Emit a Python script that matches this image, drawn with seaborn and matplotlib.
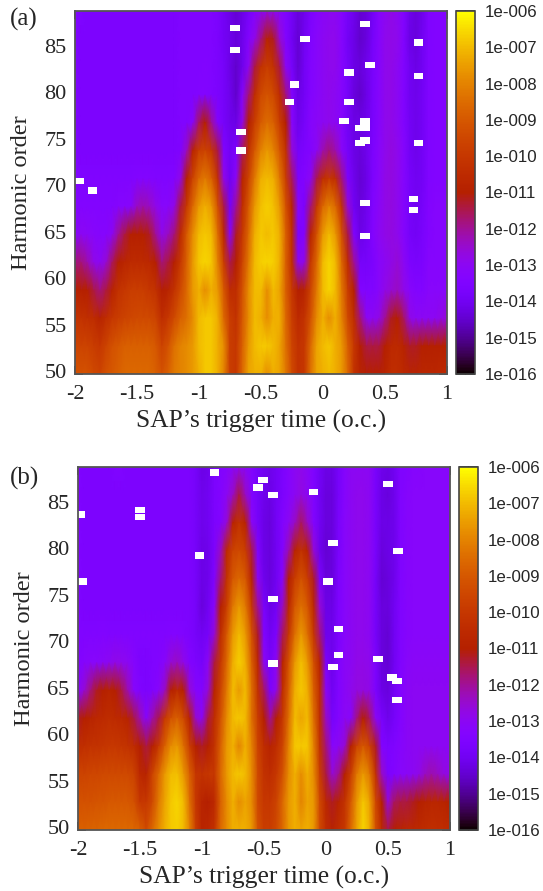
import matplotlib
matplotlib.use('Agg')
from matplotlib import pyplot as plt
import numpy as np
import seaborn as sns
sns.set_style('ticks')
plt.rcParams['font.family'] = ['Liberation Serif', 'DejaVu Serif']

# trigger time columns -2 .. 1 in 0.05 steps, harmonic order rows 89 .. 50 in steps of 3
times = [round(-2 + 0.05 * i, 2) for i in range(61)]
orders = [89, 86, 83, 80, 77, 74, 71, 68, 65, 62, 59, 56, 53, 50]
x_ticks = [-2, -1.5, -1, -0.5, 0, 0.5, 1]
x_labels = ['-2', '-1.5', '-1', '-0.5', '0', '0.5', '1']
y_ticks = [50, 55, 60, 65, 70, 75, 80, 85]
bar_labels = ['1e-016', '1e-015', '1e-014', '1e-013', '1e-012', '1e-011',
              '1e-010', '1e-009', '1e-008', '1e-007', '1e-006']

# tenths of a decade above 1e-16
panel_a = [
    [26,25,24,24,24,24,24,24,24,24, 24,24,24,24,24,24,24,25,25,25, 25,25,25,24,21,18,16,18,22,26, 29,32,31,28,25,21,17,19,24,27, 29,30,30,27,22,19,16,17,21,27, 30,32,30,26,19,17,19,25,26,26,26],
    [25,24,24,24,24,24,24,24,24,24, 24,24,24,24,24,24,24,25,25,25, 25,25,25,24,21,19,17,19,26,32, 42,52,48,35,26,20,16,20,25,28, 30,31,31,27,21,18,15,17,22,27, 31,32,31,26,18,17,20,25,26,26,26],
    [25,24,24,24,24,24,24,24,24,24, 24,24,24,24,24,24,24,25,25,25, 25,26,25,24,22,18,15,19,30,46, 58,62,58,46,30,22,16,21,26,28, 30,31,31,27,22,18,17,19,23,27, 31,32,30,26,20,18,20,25,26,26,26],
    [25,24,24,24,24,24,24,24,24,24, 24,24,24,24,24,24,24,25,25,25, 26,26,25,24,22,19,15,27,42,56, 66,69,66,56,42,26,18,21,26,28, 30,31,30,27,22,17,15,18,23,27, 31,32,30,26,20,19,21,25,26,26,26],
    [25,24,24,24,24,24,24,24,24,24, 24,24,24,24,24,24,24,25,25,28, 44,50,40,26,22,19,18,32,50,62, 71,75,72,62,50,28,19,22,27,29, 30,31,30,27,21,18,18,19,23,27, 31,32,30,26,21,19,21,25,26,26,26],
    [25,24,24,24,24,24,24,24,24,24, 24,24,24,24,24,24,24,25,36,52, 62,64,60,46,25,21,24,44,58,70, 80,84,80,70,58,34,22,24,26,30, 38,42,38,29,22,18,17,19,24,28, 31,33,31,27,21,19,21,25,26,26,26],
    [26,25,25,25,25,25,25,25,25,25, 26,26,26,25,25,25,26,32,50,64, 74,78,72,58,32,20,30,52,64,78, 88,90,88,78,62,44,24,26,30,45, 56,60,56,42,24,19,16,18,24,28, 32,33,31,27,22,20,21,25,26,26,26],
    [26,26,26,26,26,26,26,27,27,28, 36,38,36,32,28,28,32,46,60,74, 84,88,84,68,46,22,40,56,70,84, 91,93,91,84,68,52,28,24,42,60, 74,80,74,58,34,20,17,19,25,29, 32,33,31,27,22,20,22,26,27,27,27],
    [28,30,29,28,27,27,30,40,46,50, 50,50,48,40,32,36,42,55,70,82, 90,92,90,76,54,28,48,60,74,88, 92,90,92,88,72,56,24,26,52,68, 84,90,84,68,46,25,18,20,26,30, 32,33,31,27,22,21,23,26,27,27,27],
    [42,42,38,32,30,34,44,50,53,55, 55,55,54,50,42,46,50,60,72,84, 92,94,92,80,62,45,50,64,78,90, 93,94,93,88,72,56,30,32,60,74, 90,94,90,74,56,40,22,22,24,28, 30,32,34,30,24,23,24,27,27,27,27],
    [50,50,50,46,42,46,52,58,60,62, 62,62,60,58,50,52,58,66,74,84, 88,82,88,84,70,56,56,68,82,90, 90,82,90,86,72,60,50,52,64,78, 90,94,90,78,62,50,26,25,25,28, 32,34,36,32,28,26,26,28,28,28,28],
    [58,58,57,56,52,56,60,62,64,65, 66,66,66,64,56,60,66,72,76,82, 90,92,92,88,74,62,58,70,82,90, 88,82,88,88,74,62,55,58,68,82, 88,82,88,80,66,56,42,30,30,32, 40,48,50,44,32,30,30,30,30,32,34],
    [64,64,64,62,60,64,68,70,72,72, 72,72,72,70,64,68,76,80,82,84, 90,92,92,88,82,62,60,72,84,90, 92,92,90,86,76,64,58,60,74,86, 90,92,88,84,72,60,50,46,46,46, 50,54,55,52,48,48,50,50,50,50,50],
    [68,68,68,66,64,68,70,72,74,74, 74,74,74,72,68,72,78,80,82,84, 88,92,92,88,80,62,60,74,86,88, 88,82,88,86,78,66,58,60,76,86, 88,90,88,84,74,58,52,50,50,50, 52,56,56,54,52,52,53,53,53,54,54],
]
panel_b = [
    [25,24,24,24,24,24,25,25,24,24, 24,24,24,24,24,24,24,24,24,22, 18,19,24,26,27,29,30,29,26,22, 20,19,21,24,27,30,31,29,25,21, 18,18,22,27,30,30,30,30,23,19, 18,20,25,26,27,27,28,28,28,28,28],
    [25,24,24,24,24,24,24,24,24,24, 24,24,24,24,24,24,24,24,24,22, 19,20,24,26,30,36,46,36,26,22, 19,18,21,24,27,30,33,30,25,20, 17,17,22,27,30,31,31,30,23,18, 17,19,25,27,28,28,28,28,28,28,28],
    [25,24,24,24,24,24,24,24,24,24, 24,24,24,24,24,24,24,24,24,22, 19,20,24,26,34,52,58,52,30,22, 18,17,21,26,30,36,44,36,26,20, 17,17,23,28,30,31,31,30,23,18, 18,19,25,27,28,28,28,28,28,28,28],
    [25,24,24,24,24,24,24,24,24,24, 24,24,24,24,24,24,24,24,24,22, 18,19,24,36,55,64,66,62,46,25, 18,17,20,26,38,52,58,52,34,19, 16,17,23,28,30,31,31,30,23,17, 18,19,25,27,28,28,28,28,28,28,28],
    [25,24,24,24,24,24,24,24,24,24, 24,24,24,24,24,24,24,24,24,22, 18,19,25,42,58,70,74,70,52,30, 19,17,20,28,50,62,68,62,48,24, 17,17,24,28,30,31,31,30,22,16, 17,19,25,27,28,28,28,28,28,28,28],
    [25,24,24,24,24,24,24,24,24,24, 24,24,24,24,24,24,24,24,24,22, 17,20,28,50,62,78,84,78,60,40, 23,18,21,36,54,70,76,70,54,34, 18,18,24,28,30,31,31,30,22,17, 17,20,25,27,28,28,28,28,28,28,28],
    [25,25,25,25,26,25,25,25,25,25, 25,25,25,25,25,26,26,25,24,22, 20,22,34,56,70,84,90,84,68,48, 25,20,24,44,60,76,84,76,60,42, 19,19,24,28,30,31,31,30,22,17, 16,20,25,27,28,28,28,28,28,28,28],
    [26,27,28,28,29,30,32,31,30,27, 24,24,25,26,28,34,36,32,26,24, 22,30,46,60,74,88,93,88,72,54, 30,22,30,52,68,84,91,84,68,52, 24,19,25,29,30,32,32,31,24,17, 16,20,25,28,29,29,29,29,29,29,29],
    [28,34,42,48,50,52,50,46,38,28, 25,24,25,28,36,50,55,50,34,27, 26,34,52,64,78,90,84,90,76,58, 44,24,32,56,72,88,92,88,72,56, 30,20,25,29,31,33,33,32,24,18, 17,21,26,29,30,30,30,30,30,30,30],
    [48,50,52,54,55,56,55,54,52,46, 38,28,38,45,60,68,72,66,52,35, 30,46,56,68,82,90,92,90,76,62, 50,40,50,60,76,90,86,90,76,56, 36,22,26,30,28,42,50,44,30,23, 19,22,26,29,30,30,30,30,30,30,30],
    [56,57,58,58,59,60,60,59,58,56, 50,46,50,60,72,82,84,76,62,50, 48,50,58,72,84,88,80,88,80,64, 56,52,56,64,80,92,92,92,80,58, 42,28,30,34,50,64,70,64,48,26, 24,25,27,29,30,30,30,30,30,30,30],
    [64,64,65,65,66,66,66,66,66,64, 54,52,64,74,84,90,91,84,72,60, 58,60,60,74,84,90,92,90,82,66, 58,56,60,68,82,88,82,88,82,62, 46,34,40,50,62,78,84,78,58,36, 24,26,28,29,30,32,36,38,36,33,32],
    [68,68,68,69,69,70,70,70,70,68, 60,60,66,78,86,92,94,90,76,60, 52,50,54,72,82,88,82,86,82,66, 60,60,64,74,84,88,80,86,84,66, 54,48,52,58,70,84,92,86,66,50, 34,44,46,46,48,50,52,53,53,52,50],
    [72,72,73,73,74,74,74,74,74,74, 72,66,74,82,88,92,93,90,80,62, 52,54,58,74,82,88,88,88,84,68, 62,62,66,74,84,88,86,88,84,66, 56,52,56,60,74,86,94,88,68,54, 46,50,52,54,54,55,56,57,56,56,55],
]

# cells with no data, drawn white
holes_a_t = [-0.71, -0.71, -0.66, -0.66, -1.97, -1.86, 0.34, -0.145, 0.77, 0.38, 0.21, -0.23, 0.77,
             -0.27, 0.21, 0.17, 0.34, 0.34, 0.30, 0.34, 0.30, 0.77, 0.73, 0.73, 0.34, 0.34]
holes_a_o = [87.2, 84.8, 76.0, 74.0, 70.7, 69.7, 87.6, 86.0, 85.6, 83.2, 82.4, 81.1, 82.0,
             79.2, 79.2, 77.2, 77.2, 76.5, 76.4, 75.1, 74.8, 74.8, 68.8, 67.6, 68.4, 64.8]
holes_b_t = [-0.90, -1.98, -1.5, -1.5, -1.02, -1.97, -0.51, -0.55, -0.43, -0.10, 0.5, 0.056, 0.58,
             0.016, -0.43, 0.10, 0.10, -0.43, 0.056, 0.42, 0.53, 0.57, 0.57]
holes_b_o = [88.4, 83.9, 84.4, 83.6, 79.5, 76.7, 87.6, 86.8, 86.0, 86.3, 87.2, 80.8, 80.0,
             76.7, 74.8, 71.6, 68.8, 67.9, 67.5, 68.4, 66.4, 66.0, 64.0]

W, H = 543, 891


def px_axes(fig, left, top, right, bottom):
    return fig.add_axes([left / W, 1 - bottom / H, (right - left) / W, (bottom - top) / H])


def to_col(t):
    return (np.asarray(t) - times[0]) / (times[1] - times[0])


def to_row(o):
    return (orders[0] - np.asarray(o)) / (orders[0] - orders[1])


def draw_panel(fig, data, holes_t, holes_o, box, bar_box, tag, tag_y):
    ax = px_axes(fig, *box)
    cax = px_axes(fig, *bar_box)
    sns.heatmap(np.array(data), ax=ax, cbar_ax=cax, cmap='gnuplot', vmin=0, vmax=100,
                shading='gouraud', rasterized=True)
    ax.set_xlim(0, len(times) - 1)
    ax.set_ylim(len(orders) - 1, 0)

    ax.bar(to_col(holes_t), 0.68 / 3, width=0.078 / 0.05, bottom=to_row(holes_o) - 0.34 / 3,
           color='white', linewidth=0)

    ax.set_xticks(to_col(x_ticks))
    ax.set_xticklabels(x_labels, rotation=0, fontsize=16)
    ax.set_yticks(to_row(y_ticks))
    ax.set_yticklabels(y_ticks, rotation=0, fontsize=16)
    ax.tick_params(direction='in', length=6, width=1.1, color='#222222', top=True, right=True,
                   bottom=True, left=True)
    ax.tick_params(axis='x', pad=8)
    ax.tick_params(axis='y', pad=6)
    ax.set_xlabel("SAP\u2019s trigger time (o.c.)", fontsize=18.4, labelpad=4.5)
    ax.set_ylabel('Harmonic order', fontsize=17.6, labelpad=9)
    for side in ax.spines.values():
        side.set_visible(True)
        side.set_linewidth(1.3)
        side.set_color('#555555')

    cbar = ax.collections[0].colorbar
    cbar.set_ticks(np.arange(0, 101, 10))
    cbar.set_ticklabels(bar_labels, fontfamily='Liberation Sans', fontsize=12.2)
    cax.tick_params(direction='in', length=7, width=1.1, color='#222222', left=True, right=True,
                    labelright=True, labelleft=False, pad=7)
    cbar.outline.set_linewidth(1.2)
    cbar.outline.set_edgecolor('#444444')

    fig.text(10 / W, 1 - tag_y / H, tag, fontsize=18, va='center')


def main():
    fig = plt.figure(figsize=(W / 100, H / 100), dpi=100)
    draw_panel(fig, panel_a, holes_a_t, holes_a_o, (75, 11, 447, 374), (456, 11, 475, 374), '(a)', 19)
    draw_panel(fig, panel_b, holes_b_t, holes_b_o, (78, 467, 450, 830), (459, 467, 478, 830), '(b)', 478)
    plt.savefig('out.png', dpi=100)


if __name__ == '__main__':
    main()
